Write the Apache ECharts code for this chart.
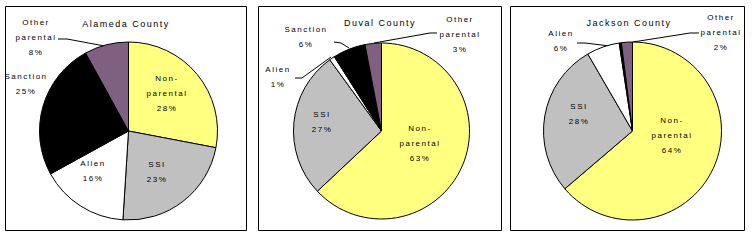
<!DOCTYPE html>
<html><head><meta charset="utf-8">
<script src="https://cdn.jsdelivr.net/npm/echarts@6/dist/echarts.min.js"></script>
<style>
html,body{margin:0;padding:0;background:#fff;}
#c{width:755px;height:240px;}
#c text{letter-spacing:1.5px;}
</style></head><body><div id="c"></div>
<script>
// ---- data ----
const categories = ['Non-parental', 'SSI', 'Alien', 'Sanction', 'Other parental'];
const labelNames = ['Non-\nparental', 'SSI', 'Alien', 'Sanction', 'Other\nparental'];
const counties = ['Alameda County', 'Duval County', 'Jackson County'];
const alameda = [28, 23, 16, 25, 8];
const duval = [63, 27, 1, 6, 3];
const jackson = [64, 28, 6, 0.4, 2];
const showPct = [[true,true,true,true,true],[true,true,true,true,true],[true,true,true,false,true]];

// ---- layout / style ----
const colors = ['#FFFF80', '#C0C0C0', '#FFFFFF', '#000000', '#806080'];
const FONT = 'Liberation Sans, Arial, sans-serif';
const panels = [
  { box: [5.5, 6.5, 241, 224], center: [128.5, 131], r: 89, title: [126, 24],
    labels: [[167, 93], [157, 171.5], [93, 170.5], [26, 83.5], [36, 37]],
    lines: [null, null, null, null, [[110, 47], [67, 39], [58, 39]]],
    outside: [false, false, false, true, true] },
  { box: [258.5, 6.5, 243, 224], center: [381.5, 131], r: 88, title: [380, 23],
    labels: [[420, 143], [322, 122], [278, 77], [306, 36.5], [460, 34]],
    lines: [null, null, [[331, 57], [302, 78], [295, 78]], [[349, 48], [341, 43], [334, 42]], [[374, 43], [430, 33], [437, 33]]],
    outside: [false, false, true, true, true] },
  { box: [510.5, 6.5, 234, 224], center: [632.5, 131], r: 89, title: [629, 23],
    labels: [[672, 135], [579, 114], [561, 40.5], null, [721, 32]],
    lines: [null, null, [[610, 46], [585, 43], [577, 43]], null, [[633, 42], [690, 33], [699, 33]]],
    outside: [false, false, true, false, true] }
];
const seriesValues = [alameda, duval, jackson];

const chart = echarts.init(document.getElementById('c'), null, { renderer: 'svg' });

const series = seriesValues.map((vals, si) => {
  const p = panels[si];
  return {
    type: 'pie',
    center: p.center,
    radius: p.r,
    startAngle: 90,
    clockwise: true,
    animation: false,
    silent: true,
    avoidLabelOverlap: false,
    itemStyle: { borderColor: '#000', borderWidth: 1 },
    emphasis: { disabled: true },
    label: {
      show: true, position: 'inside', color: '#000',
      fontFamily: FONT, fontSize: 8, fontWeight: 'normal', lineHeight: 15, align: 'center',
      formatter: (d) => labelNames[d.dataIndex] + '\n' + d.value + '%'
    },
    labelLine: { show: false, smooth: false, lineStyle: { color: '#000', width: 1 } },
    labelLayout: (params) => {
      const pos = p.labels[params.dataIndex];
      if (!pos) return {};
      const o = { x: pos[0], y: pos[1], align: 'center', verticalAlign: 'middle' };
      const ln = p.lines[params.dataIndex];
      if (ln) o.labelLinePoints = ln;
      return o;
    },
    data: vals.map((v, i) => ({
      name: categories[i],
      value: v,
      itemStyle: { color: colors[i] },
      label: { show: showPct[si][i], position: p.outside[i] ? 'outside' : 'inside' },
      labelLine: { show: !!p.lines[i], length: 5, length2: 5 }
    }))
  };
});

const graphics = [];
panels.forEach((p, i) => {
  graphics.push({ type: 'rect', silent: true, z: 100,
    shape: { x: p.box[0], y: p.box[1], width: p.box[2], height: p.box[3] },
    style: { fill: 'none', stroke: '#000', lineWidth: 1 } });
  graphics.push({ type: 'text', silent: true, z: 100, x: p.title[0], y: p.title[1],
    style: { text: counties[i], fill: '#000', fontSize: 9, fontWeight: 'normal', fontFamily: FONT,
      textAlign: 'center', textVerticalAlign: 'middle' } });
});

chart.setOption({
  backgroundColor: '#fff',
  animation: false,
  graphic: graphics,
  series: series
});
</script></body></html>
